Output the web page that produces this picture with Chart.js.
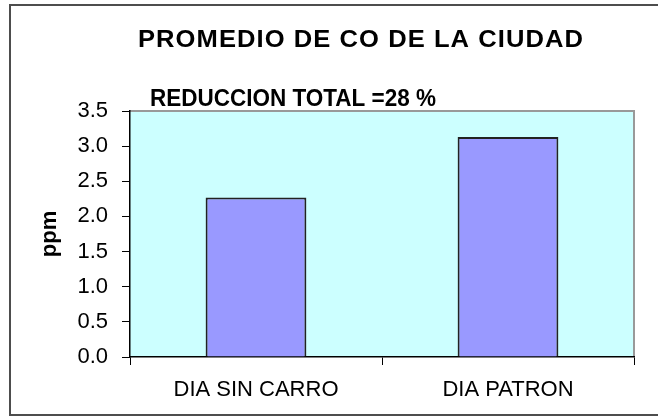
<!DOCTYPE html>
<html>
<head>
<meta charset="utf-8">
<script src="https://cdn.jsdelivr.net/npm/chart.js@4"></script>
<style>
  html, body { margin: 0; padding: 0; background: #fff; }
  #wrap { width: 658px; height: 418px; }
</style>
</head>
<body>
<div id="wrap"><canvas id="c" width="658" height="418"></canvas></div>
<script>
const categories = ["DIA SIN CARRO", "DIA PATRON"];
const values = [2.27, 3.13];
const yTicks = [0, 0.5, 1.0, 1.5, 2.0, 2.5, 3.0, 3.5];
const titleText = "PROMEDIO DE CO DE LA CIUDAD";
const subtitleText = "REDUCCION TOTAL =28 %";
const yAxisTitle = "ppm";

function fitText(ctx, text, x, y, targetWidth, spacing) {
  if ('letterSpacing' in ctx) ctx.letterSpacing = spacing + 'px';
  const w = ctx.measureText(text).width;
  ctx.save();
  ctx.translate(x, y);
  ctx.scale(targetWidth / w, 1);
  ctx.fillText(text, 0, 0);
  ctx.restore();
  if ('letterSpacing' in ctx) ctx.letterSpacing = '0px';
}

const decor = {
  id: 'decor',
  beforeDraw(chart) {
    const ctx = chart.ctx;
    const a = chart.chartArea;
    ctx.save();
    ctx.fillStyle = '#ffffff';
    ctx.fillRect(0, 0, chart.width, chart.height);
    // outer frame
    ctx.strokeStyle = '#4d4d4d';
    ctx.lineWidth = 2;
    ctx.strokeRect(10, 5, 700, 410);
    // plot area background
    ctx.fillStyle = '#CCFFFF';
    ctx.fillRect(a.left, a.top, a.right - a.left, a.bottom - a.top);
    // plot border (top & right)
    ctx.strokeStyle = '#999999';
    ctx.lineWidth = 2;
    ctx.beginPath();
    ctx.moveTo(a.left, a.top);
    ctx.lineTo(a.right, a.top);
    ctx.lineTo(a.right, a.bottom);
    ctx.stroke();
    // title
    ctx.fillStyle = '#000';
    ctx.textBaseline = 'alphabetic';
    ctx.textAlign = 'left';
    ctx.font = 'bold 24px "Liberation Sans", Arial, sans-serif';
    fitText(ctx, titleText, 138, 47, 446, 1);
    // subtitle
    ctx.font = 'bold 24px "Liberation Sans", Arial, sans-serif';
    fitText(ctx, subtitleText, 150, 106, 286, 0);
    ctx.restore();
  }
};

new Chart(document.getElementById('c'), {
  type: 'bar',
  data: {
    labels: categories,
    datasets: [{
      data: values,
      backgroundColor: '#9999FF',
      borderColor: '#222222',
      borderWidth: 2,
      borderSkipped: 'bottom',
      categoryPercentage: 1.0,
      barPercentage: 0.4
    }]
  },
  options: {
    responsive: false,
    animation: false,
    devicePixelRatio: 1,
    layout: { padding: { left: 0, top: 111, right: 24, bottom: 0 } },
    plugins: {
      legend: { display: false },
      title: { display: false },
      tooltip: { enabled: false }
    },
    scales: {
      x: {
        grid: {
          display: true,
          drawOnChartArea: false,
          drawTicks: true,
          tickLength: 8,
          color: '#000',
          offset: true
        },
        border: { display: true, color: '#000', width: 1.5 },
        ticks: {
          color: '#000',
          font: { family: '"Liberation Sans", Arial, sans-serif', size: 22 },
          padding: 12
        },
        afterFit(scale) { scale.height = 61; }
      },
      y: {
        min: 0,
        max: 3.5,
        afterBuildTicks(scale) { scale.ticks = yTicks.map(v => ({ value: v })); },
        grid: {
          display: true,
          drawOnChartArea: false,
          drawTicks: true,
          tickLength: 8,
          color: '#000'
        },
        border: { display: true, color: '#000', width: 1.5 },
        ticks: {
          color: '#000',
          font: { family: '"Liberation Sans", Arial, sans-serif', size: 22 },
          padding: 14,
          callback: (v) => Number(v).toFixed(1)
        },
        title: {
          display: true,
          text: yAxisTitle,
          color: '#000',
          font: { family: '"Liberation Sans", Arial, sans-serif', size: 22, weight: 'bold' },
          padding: { top: 37, bottom: 0 }
        },
        afterFit(scale) { scale.width = 130; }
      }
    }
  },
  plugins: [decor]
});
</script>
</body>
</html>
